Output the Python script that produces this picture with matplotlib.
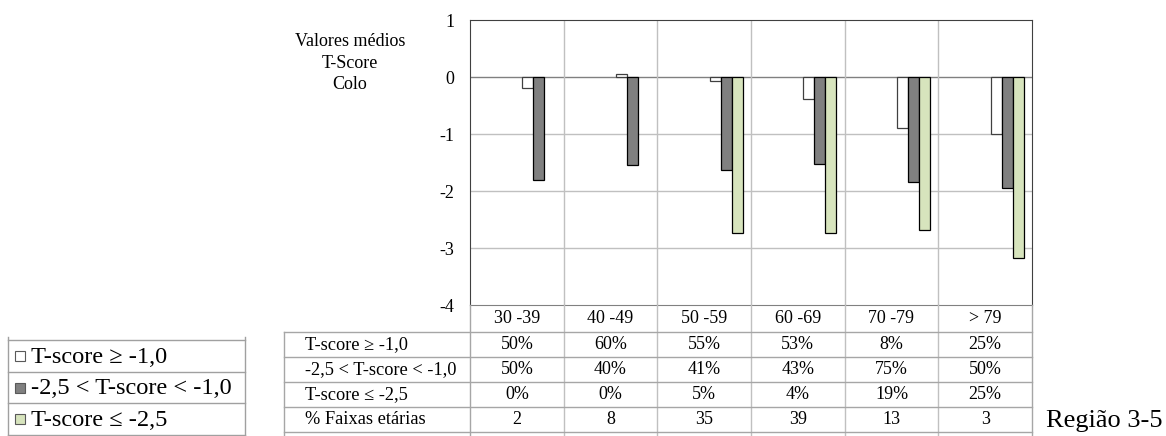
import numpy as np
import matplotlib.pyplot as plt
import matplotlib.transforms as mtransforms
from matplotlib.lines import Line2D
from matplotlib.patches import Rectangle

plt.rcParams['font.family'] = ['Liberation Serif', 'DejaVu Serif']

# Data
categories = ['30 -39', '40 -49', '50 -59', '60 -69', '70 -79', '> 79']
white_vals = [-0.2, 0.05, -0.07, -0.38, -0.9, -1.0]
dark_vals = [-1.8, -1.55, -1.64, -1.53, -1.85, -1.94]
green_vals = [np.nan, np.nan, -2.74, -2.74, -2.68, -3.18]
series_names = ['T-score ≥ -1,0', '-2,5 < T-score < -1,0', 'T-score ≤ -2,5']
pct_ge = ['50%', '60%', '55%', '53%', '8%', '25%']
pct_mid = ['50%', '40%', '41%', '43%', '75%', '50%']
pct_le = ['0%', '0%', '5%', '4%', '19%', '25%']
faixas = [2, 8, 35, 39, 13, 3]
yticks = [-4, -3, -2, -1, 0, 1]

W, H = 1166, 436
fig = plt.figure(figsize=(W / 100, H / 100), dpi=100)


def fx(px):
    return px / W


def fy(py):
    return 1 - py / H


ax = fig.add_axes([fx(470), fy(305), fx(1032) - fx(470), fy(20) - fy(305)])
x = np.arange(len(categories))
w = 1 / 8.5
fills = ['#ffffff', '#808080', '#d7e4bd']
edges = ['#404040', '#000000', '#000000']
for k, vals in enumerate([white_vals, dark_vals, green_vals]):
    ax.bar(x + w * (0.5 + k), np.array(vals, dtype=float), width=w, align='edge',
           color=fills[k], edgecolor=edges[k], linewidth=0.9, zorder=3)

ax.set_xlim(-0.5, len(categories) - 0.5)
ax.set_ylim(-4, 1)
ax.set_xticks([])
ax.set_yticks(yticks)
ax.set_yticklabels([str(v) for v in yticks])
ax.tick_params(axis='y', length=0, pad=11, labelsize=13)
for v in yticks[1:-1]:
    ax.axhline(v, color='#808080' if v == 0 else '#c0c0c0', lw=1, zorder=1)
for b in x[:-1] + 0.5:
    ax.axvline(b, color='#c0c0c0', lw=1, zorder=1)
for s in ['top', 'right', 'left']:
    ax.spines[s].set_color('#404040')
ax.spines['bottom'].set_color('#808080')

fig.text(fx(350), fy(63), 'Valores médios\nT-Score\nColo', ha='center', va='center',
         size=13, linespacing=1.38)

# Data table under the chart
trans = mtransforms.blended_transform_factory(ax.transData, fig.transFigure)
tcol = '#a6a6a6'
for b in np.arange(-0.5, len(categories), 1.0):
    c = tcol if b in (-0.5, len(categories) - 0.5) else '#c0c0c0'
    fig.add_artist(Line2D([b, b], [fy(305), 0], transform=trans, color=c, lw=1))
for yy in [332, 357, 382, 407, 432]:
    fig.add_artist(Line2D([fx(284), fx(1032)], [fy(yy), fy(yy)], color=tcol, lw=1))
fig.add_artist(Line2D([fx(284), fx(284)], [fy(332), 0], color=tcol, lw=1))

for i, cat in enumerate(categories):
    ax.text(i, fy(318.5), cat, transform=trans, ha='center', va='center', size=13)

rows = [pct_ge, pct_mid, pct_le, [str(v) for v in faixas]]
labels = series_names + ['% Faixas etárias']
for r, (lab, vals) in enumerate(zip(labels, rows)):
    yc = fy(344.5 + 25 * r)
    fig.text(fx(305), yc, lab, ha='left', va='center', size=13.2)
    for i, v in enumerate(vals):
        ax.text(i, yc, v, transform=trans, ha='center', va='center', size=13)

# Legend box on the left
lcol = '#a0a0a0'
ltops = [340, 372, 403, 435]
for yy in ltops:
    fig.add_artist(Line2D([fx(8), fx(245)], [fy(yy), fy(yy)], color=lcol, lw=1))
for xx in [8, 245]:
    fig.add_artist(Line2D([fx(xx), fx(xx)], [fy(337), fy(435)], color=lcol, lw=1))
for k, name in enumerate(series_names):
    yc = (ltops[k] + ltops[k + 1]) / 2
    fig.add_artist(Rectangle((fx(15), fy(yc + 5)), fx(10), fy(yc - 5) - fy(yc + 5),
                             facecolor=fills[k], edgecolor='#595959', lw=0.8))
    fig.text(fx(31), fy(yc + 1), name, ha='left', va='center', size=17.6)

fig.text(fx(1046), fy(421), 'Região 3-5', ha='left', va='center', size=19)

fig.savefig('out.png', dpi=100)
